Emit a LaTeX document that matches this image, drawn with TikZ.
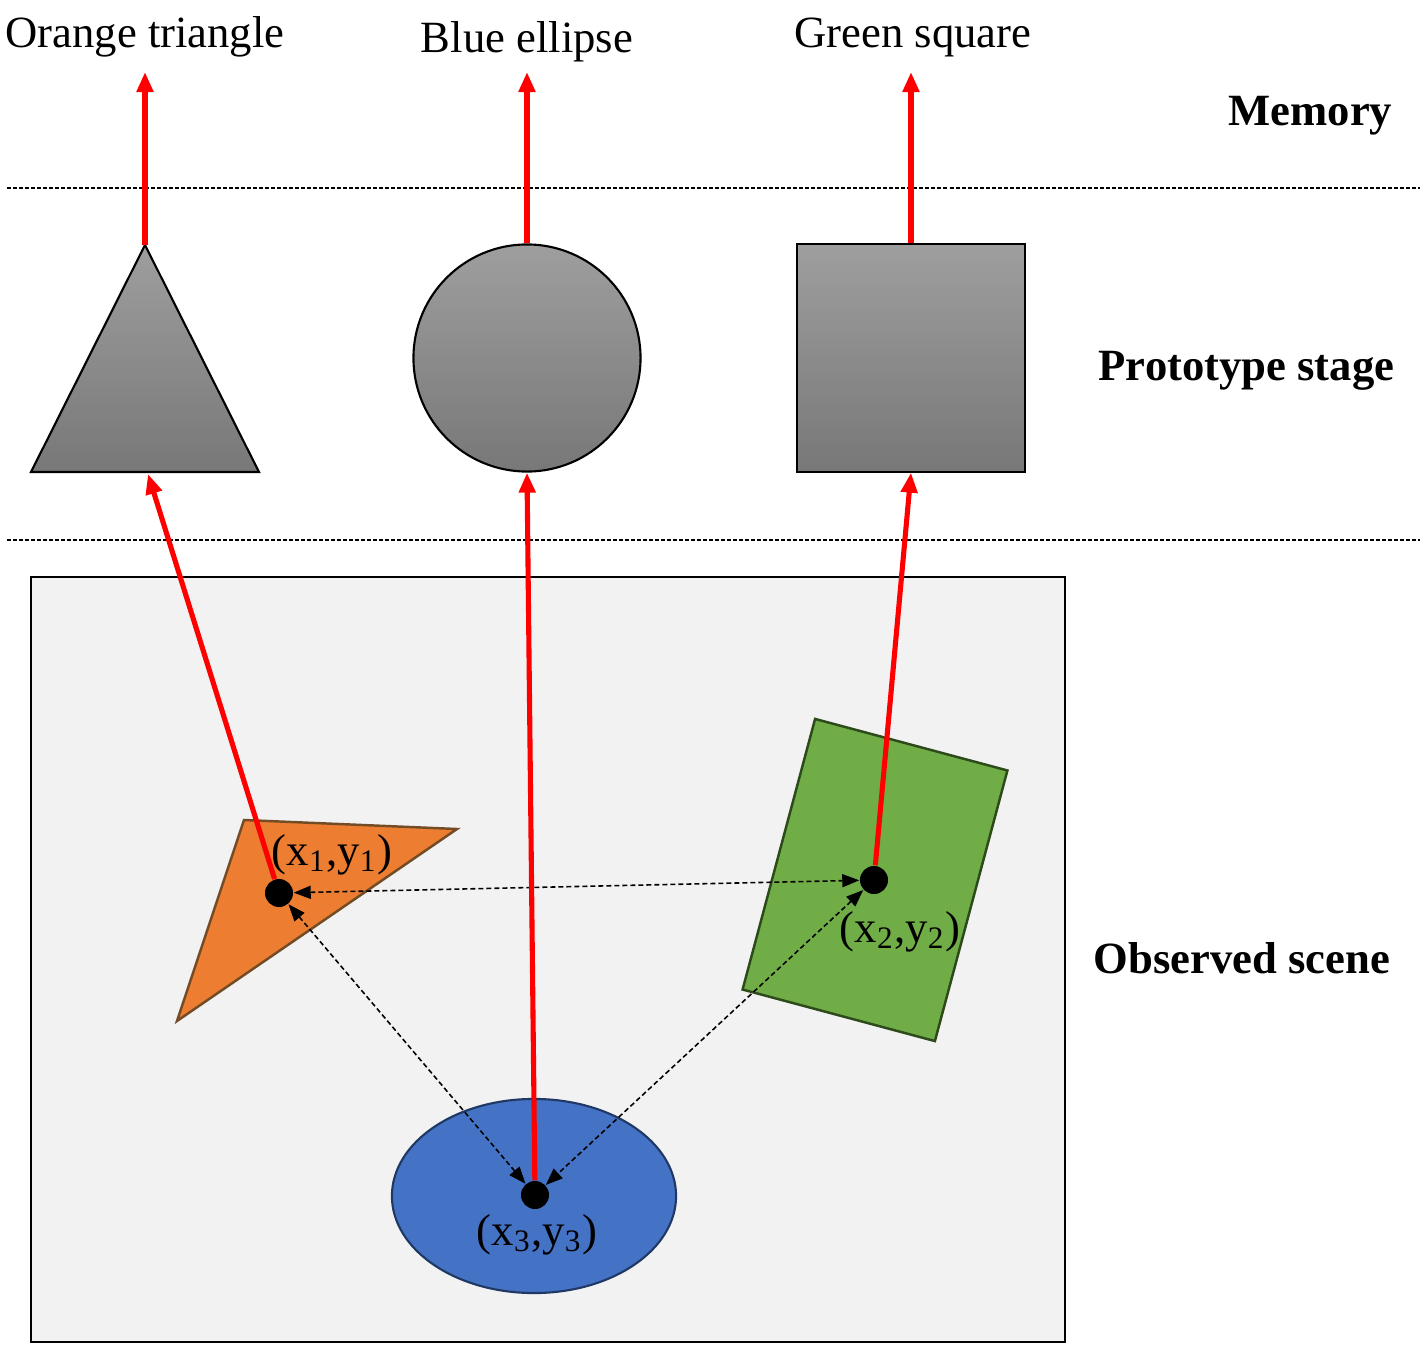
\documentclass[tikz,border=0pt]{standalone}
\usepackage{fontspec}
\setmainfont{Liberation Serif}
\usetikzlibrary{positioning, arrows.meta, calc, shapes.geometric}
\newcommand{\labelsize}{\fontsize{12.7}{15}\selectfont}
\tikzset{
    redarrow/.style={red, line width=1.45pt, -{Triangle[length=0.2cm,width=0.16cm]}},
    linkarrow/.style={black, line width=0.45pt, dash pattern=on 0.05cm off 0.03cm,
        {Triangle[length=0.17cm,width=0.13cm]}-{Triangle[length=0.17cm,width=0.13cm]}},
    protoshape/.style={draw=black, line width=0.6pt, top color=black!38, bottom color=black!53},
    dot/.style={circle, fill=black, inner sep=0pt, minimum size=0.28cm},
    stagelabel/.style={anchor=base east, inner sep=0pt, font=\labelsize\bfseries},
    txt/.style={anchor=base, inner sep=0pt}
}
\begin{document}
\begin{tikzpicture}[x=0.01cm, y=-0.01cm, font=\labelsize]
    \useasboundingbox (0,0) rectangle (1426,1360);

    % Stage separators
    \draw[line width=0.4pt, dash pattern=on 0.04cm off 0.02cm] (7,188) -- (1420,188);
    \draw[line width=0.4pt, dash pattern=on 0.04cm off 0.02cm] (7,540) -- (1420,540);

    % Stage labels
    \node[stagelabel] (memory) at (1393,125) {Memory};
    \node[stagelabel] (proto) at (1395,380) {Prototype stage};
    \node[stagelabel] (scene) at (1391,973) {Observed scene};

    % Memory labels
    \node[txt] (memTri) at (145,47) {Orange triangle};
    \node[txt] (memEll) at (527,52) {Blue ellipse};
    \node[txt] (memSq) at (913,47) {Green square};
    \coordinate (memTriIn) at (145,72);
    \coordinate (memEllIn) at (527,72);
    \coordinate (memSqIn) at (911,72);

    % Prototypes
    \path[protoshape] (145,245) -- (259,472) -- (31,472) -- cycle;
    \node[protoshape, circle, minimum size=2.27cm, inner sep=0pt] (protoEll) at (527,358) {};
    \node[protoshape, rectangle, minimum size=2.27cm, inner sep=0pt] (protoSq) at (911,358) {};
    \coordinate (protoTriTop) at (145,245);
    \coordinate (protoTriBot) at (148,474);

    % Observed scene
    \draw[line width=0.7pt, fill=black!5] (31,577) rectangle (1065,1342);
    \draw[line width=0.7pt, draw=brown!60!black, fill={rgb,255:red,237;green,125;blue,49}]
        (244,820) -- (457,829) -- (177,1021) -- cycle;
    \node[rectangle, rotate=-15, minimum width=1.99cm, minimum height=2.80cm, inner sep=0pt,
        line width=0.7pt, draw={rgb,255:red,44;green,74;blue,26}, fill={rgb,255:red,112;green,173;blue,71}]
        (objSq) at (875,880) {};
    \node[ellipse, minimum width=2.84cm, minimum height=1.94cm, inner sep=0pt,
        line width=0.6pt, draw={rgb,255:red,31;green,56;blue,100}, fill={rgb,255:red,68;green,114;blue,196}]
        (objEll) at (534,1196) {};

    % Object positions
    \node[dot] (p1) at (279,893) {};
    \node[dot] (p2) at (874,880) {};
    \node[dot] (p3) at (535,1195) {};
    \node[txt] (l1) at (332,865) {(x\textsubscript{1},y\textsubscript{1})};
    \node[txt] (l2) at (900,942) {(x\textsubscript{2},y\textsubscript{2})};
    \node[txt] (l3) at (537,1245) {(x\textsubscript{3},y\textsubscript{3})};

    % Relations
    \draw[linkarrow] (p1) -- (p2);
    \draw[linkarrow] (p1) -- (p3);
    \draw[linkarrow] (p2) -- (p3);

    % Matching to prototypes
    \draw[redarrow] (p1) -- (protoTriBot);
    \draw[redarrow] (p3) -- (protoEll.south);
    \draw[redarrow] (p2) -- (protoSq.south);

    % Recall from memory
    \draw[redarrow] (protoTriTop) -- (memTriIn);
    \draw[redarrow] (protoEll.north) -- (memEllIn);
    \draw[redarrow] (protoSq.north) -- (memSqIn);
\end{tikzpicture}
\end{document}
